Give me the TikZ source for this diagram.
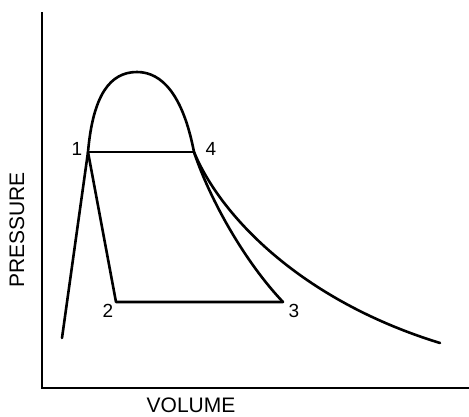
\documentclass[tikz,border=0pt]{standalone}
\usepackage{fontspec}
\setmainfont{Liberation Sans}
\begin{document}
\begin{tikzpicture}[x=1pt,y=-1pt,
  curve/.style={line width=2.6pt,line cap=round,line join=round},
  thinline/.style={line width=1.6pt},
  axis/.style={line width=1.8pt},
  num/.style={font=\fontsize{19}{21}\selectfont,inner sep=0pt},
  axlabel/.style={font=\fontsize{21}{24}\selectfont,inner sep=0pt}]
\useasboundingbox (0,0) rectangle (469,416);
% axes
\coordinate (ytop) at (42,12);
\coordinate (origin) at (42,388);
\coordinate (xend) at (469,388);
\draw[axis] (ytop) -- (origin) -- (xend);
% state points
\coordinate (p1) at (88,152);
\coordinate (p2) at (116,302);
\coordinate (p3) at (283,302);
\coordinate (p4) at (194,152);
\coordinate (liqbot) at (62,338);
\coordinate (top) at (137,72);
\coordinate (vapend) at (440,343);
% saturation dome and vapour line
\draw[curve] (liqbot) -- (p1)
  .. controls (93,95) and (110,72) .. (top)
  .. controls (162,72) and (183,95) .. (p4)
  .. controls (220,215) and (300,300) .. (vapend);
% cycle
\draw[thinline] (p1) -- (p4);
\draw[curve] (p1) -- (p2) -- (p3);
\draw[curve] (p4) .. controls (210,200) and (245,262) .. (p3);
% labels
\node[num] (l1) at (77,149) {1};
\node[num] (l4) at (211,149) {4};
\node[num] (l2) at (108,311) {2};
\node[num] (l3) at (294,311) {3};
\node[axlabel] (xl) at (191,405) {VOLUME};
\node[axlabel,rotate=90] (yl) at (17,230) {PRESSURE};
\end{tikzpicture}
\end{document}
